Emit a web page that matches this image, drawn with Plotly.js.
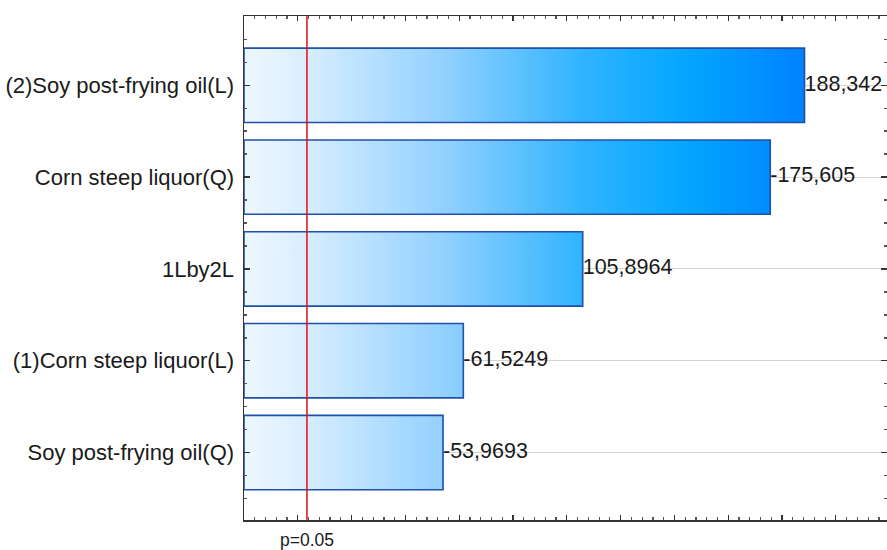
<!DOCTYPE html>
<html>
<head>
<meta charset="utf-8">
<script src="https://cdn.plot.ly/plotly-3.0.1.min.js"></script>
<style>html,body{margin:0;padding:0;background:#fff;overflow:hidden;}#chart{width:887px;height:550px;}</style>
</head>
<body>
<div id="chart"></div>
<script>
// ---- data ----
var categories = [
  "(2)Soy post-frying oil(L)",
  "Corn steep liquor(Q)",
  "1Lby2L",
  "(1)Corn steep liquor(L)",
  "Soy post-frying oil(Q)"
];
var effects = [188.342, -175.605, 105.8964, -61.5249, -53.9693];
var pLimit = 3.4;          // p=0.05 critical value
var pLabel = "p=0.05";
var xTicks = {min: -20, max: 219, step: 20, minorStep: 4};

// ---- styling ----
var FONT = "Liberation Sans, Arial, sans-serif";
var HALF = 0.405;
var gradScale = [
  [0, "#eef7ff"], [0.095, "#dcefff"], [0.36, "#90d0ff"],
  [0.6, "#30b3ff"], [0.77, "#05a8ff"], [1, "#0080ff"]
];

var traces = [];
effects.forEach(function (v, i) {
  var a = Math.abs(v);
  traces.push({
    type: "scatter", mode: "lines",
    x: [xTicks.min, a, a, xTicks.min, xTicks.min],
    y: [i - HALF, i - HALF, i + HALF, i + HALF, i - HALF],
    fill: "toself",
    fillgradient: {type: "horizontal", colorscale: gradScale, start: xTicks.min, stop: 190},
    line: {color: "#1f50aa", width: 1.6},
    hoverinfo: "skip", showlegend: false
  });
});
traces.push({
  type: "scatter", mode: "text",
  x: effects.map(function (v) { return Math.abs(v); }),
  y: categories.map(function (c, i) { return i; }),
  text: effects.map(function (v) { return String(v).replace(".", ","); }),
  textposition: "middle right",
  textfont: {family: FONT, size: 21.5, color: "#1a1a1a"},
  hoverinfo: "skip", showlegend: false, cliponaxis: false
});

var layout = {
  width: 887, height: 550,
  margin: {l: 244, r: 0, t: 16, b: 30, pad: 0},
  paper_bgcolor: "#ffffff", plot_bgcolor: "#ffffff",
  showlegend: false,
  font: {family: FONT, color: "#1a1a1a"},
  xaxis: {
    range: [xTicks.min, xTicks.max],
    tickmode: "linear", tick0: 0, dtick: xTicks.step,
    ticks: "inside", ticklen: 5, tickwidth: 1.2, tickcolor: "#333",
    showticklabels: false, showgrid: false, zeroline: false,
    showline: true, linecolor: "#333", linewidth: 1.5, mirror: "ticks",
    minor: {tickmode: "linear", tick0: 0, dtick: xTicks.minorStep, ticks: "inside", ticklen: 3, tickcolor: "#555", showgrid: false}
  },
  yaxis: {
    range: [4.735, -0.755],
    tickmode: "array", tickvals: categories.map(function (c, i) { return i; }), ticktext: categories,
    ticks: "inside", ticklen: 6, tickwidth: 1.5, tickcolor: "#333",
    tickfont: {family: FONT, size: 22, color: "#1a1a1a"},
    ticklabelstandoff: 4,
    showgrid: true, gridcolor: "#d4d4d4", gridwidth: 1, zeroline: false,
    showline: true, linecolor: "#333", linewidth: 1.5, mirror: "ticks",
    minor: {tickmode: "linear", tick0: 0, dtick: 0.25, ticks: "inside", ticklen: 3, tickcolor: "#555", showgrid: false}
  },
  shapes: [{
    type: "line", xref: "x", yref: "paper",
    x0: pLimit, x1: pLimit, y0: 0, y1: 1,
    line: {color: "#e01010", width: 1.5}
  }],
  annotations: [{
    xref: "x", yref: "paper", x: pLimit, y: 0, yshift: -19.5,
    xanchor: "center", yanchor: "middle", showarrow: false, borderpad: 0,
    text: pLabel, font: {family: FONT, size: 17.5, color: "#1a1a1a"}
  }]
};

Plotly.newPlot("chart", traces, layout, {displayModeBar: false, staticPlot: true});
</script>
</body>
</html>
